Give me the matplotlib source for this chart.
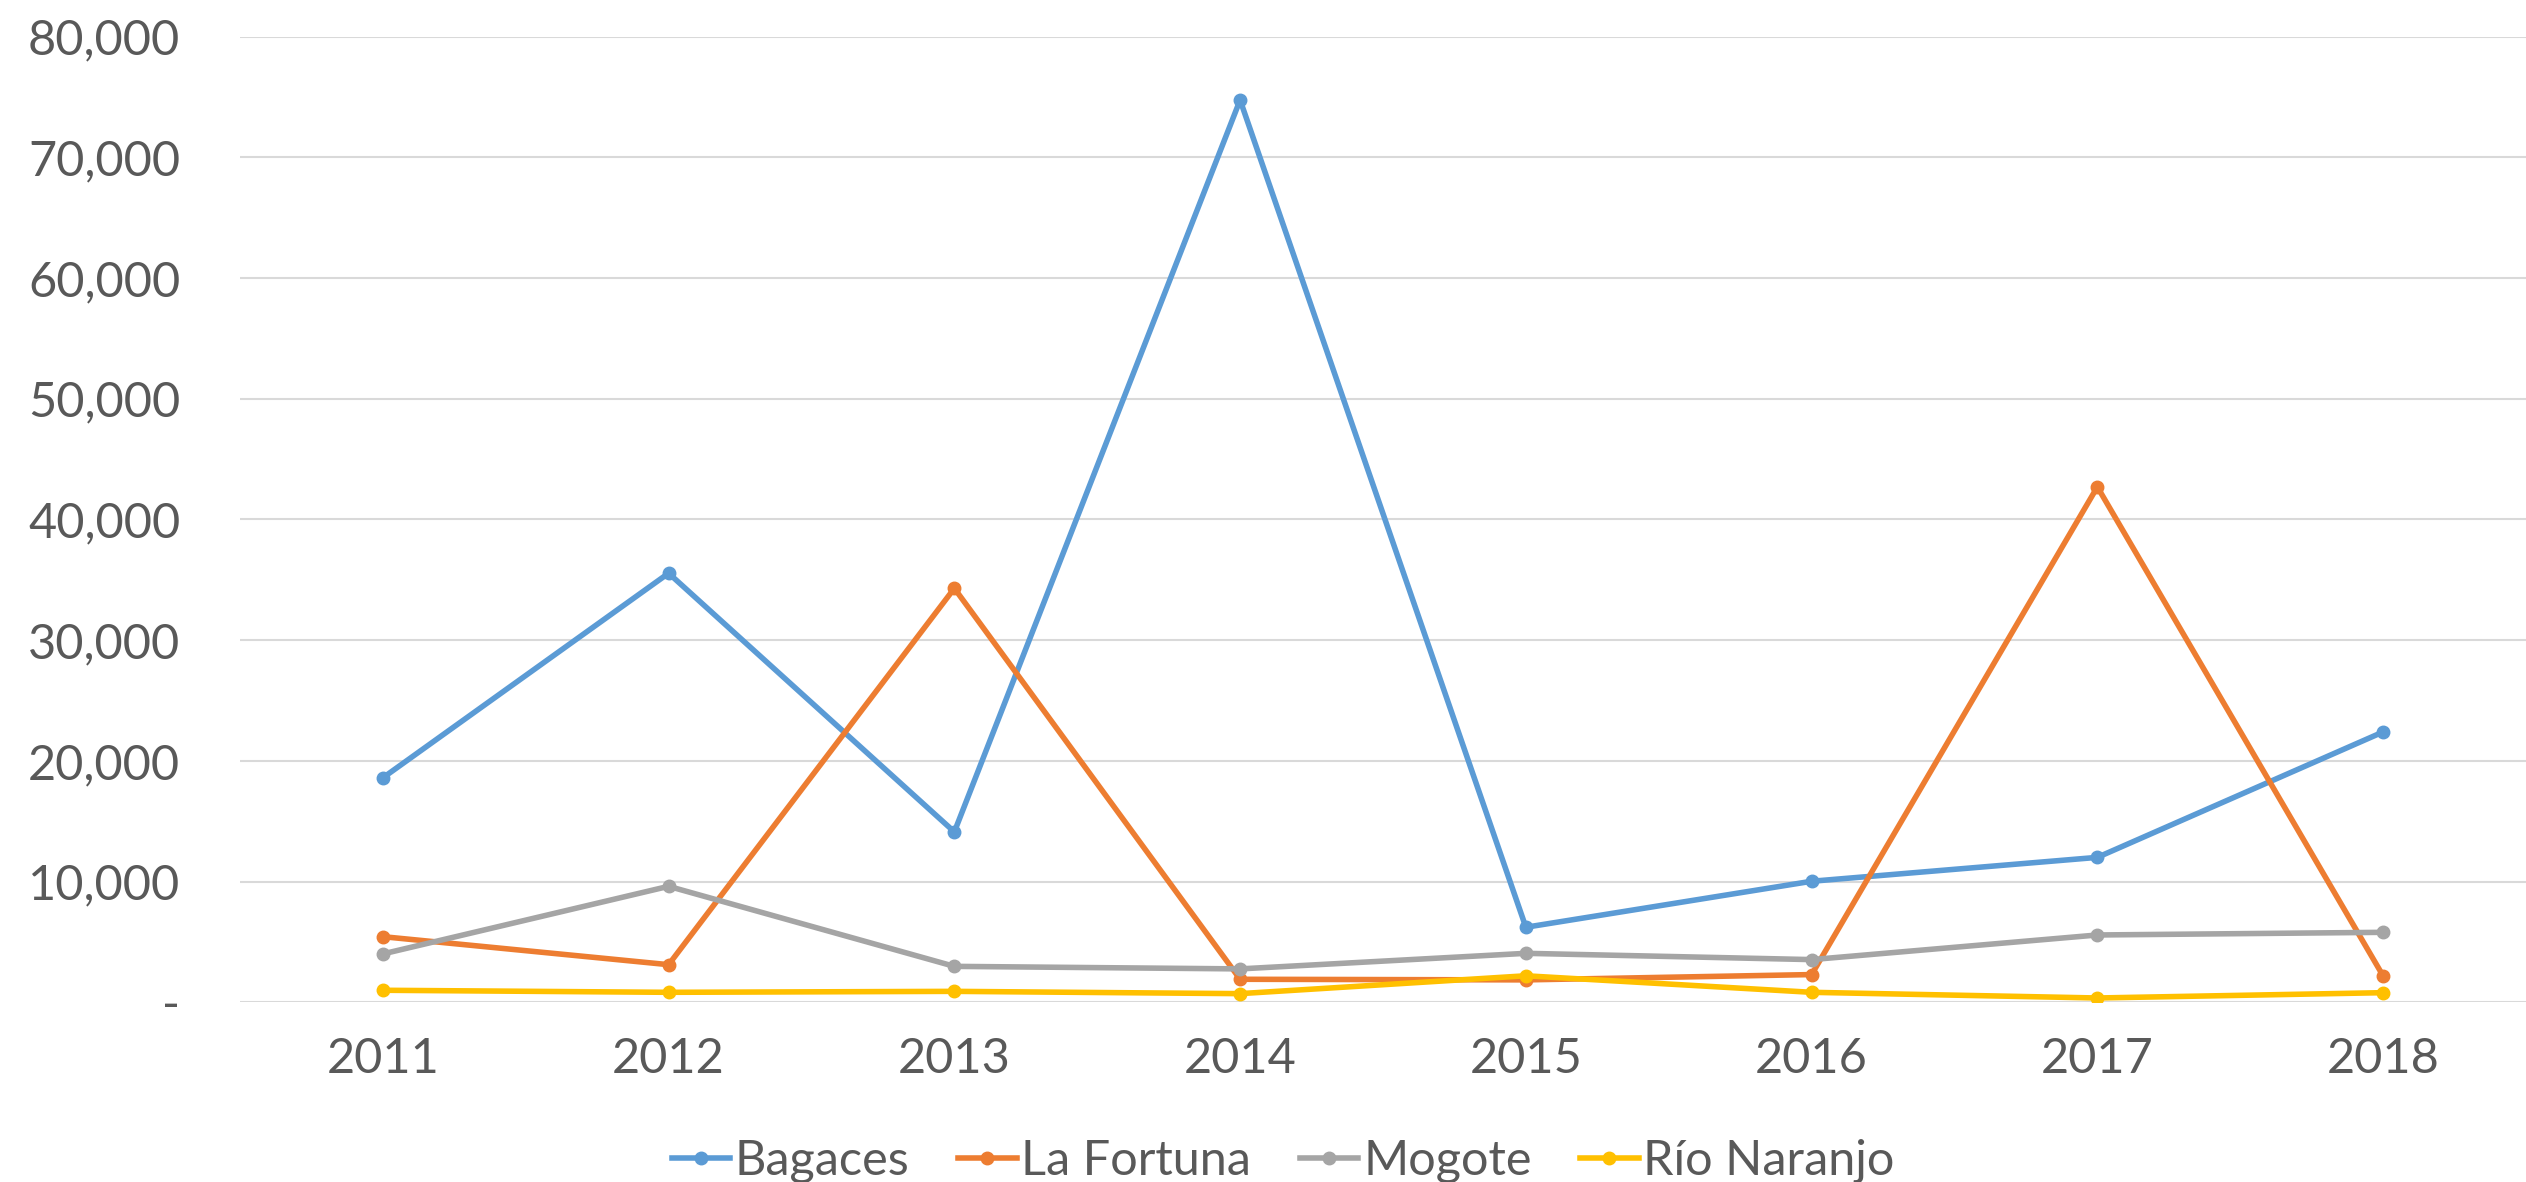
import numpy as np
import matplotlib
matplotlib.use("Agg")
import matplotlib.pyplot as plt
from matplotlib.ticker import FuncFormatter

plt.rcParams['font.family'] = ['Lato', 'DejaVu Sans']

# Data
years = ["2011", "2012", "2013", "2014", "2015", "2016", "2017", "2018"]
bagaces = [18600, 35550, 14120, 74750, 6220, 10030, 12010, 22400]
laFortuna = [5440, 3120, 34300, 1910, 1860, 2300, 42700, 2190]
mogote = [4010, 9610, 2980, 2770, 4060, 3540, 5580, 5800]
rioNaranjo = [1000, 830, 910, 720, 2200, 830, 360, 800]

seriesNames = ["Bagaces", "La Fortuna", "Mogote", "Río Naranjo"]
seriesColors = ["#5B9BD5", "#ED7D31", "#A5A5A5", "#FFC000"]
textColor = "#595959"

fig = plt.figure(figsize=(25.26, 11.82), dpi=100)
ax = fig.add_axes([0.095, 0.152, 0.905, 0.817])

x = np.arange(len(years))
for vals, name, col in zip([bagaces, laFortuna, mogote, rioNaranjo], seriesNames, seriesColors):
    ax.plot(x, vals, color=col, lw=4, marker="o", markersize=9, label=name)

ax.set_xlim(-0.5, len(years) - 0.5)
ax.set_ylim(0, 80000)
ax.set_yticks(np.arange(0, 80001, 10000))
ax.yaxis.set_major_formatter(FuncFormatter(lambda v, p: "-" if v == 0 else "{:,.0f}".format(v)))
ax.set_xticks(x)
ax.set_xticklabels(years)

ax.grid(axis="y", color="#D9D9D9", lw=1.5)
ax.set_axisbelow(True)
for s in ax.spines.values():
    s.set_visible(False)
ax.tick_params(axis="both", length=0, labelsize=35, colors=textColor)
ax.tick_params(axis="y", pad=43)
ax.tick_params(axis="x", pad=25)

# legend sits low, partly clipped at the bottom edge like the original
leg = fig.legend(loc="lower center", bbox_to_anchor=(0.508, -0.038), ncol=4, frameon=False,
                 fontsize=35, handlelength=1.2, handletextpad=0.1, columnspacing=1.0)
for t in leg.get_texts():
    t.set_color(textColor)

fig.savefig("out.png", dpi=100)
